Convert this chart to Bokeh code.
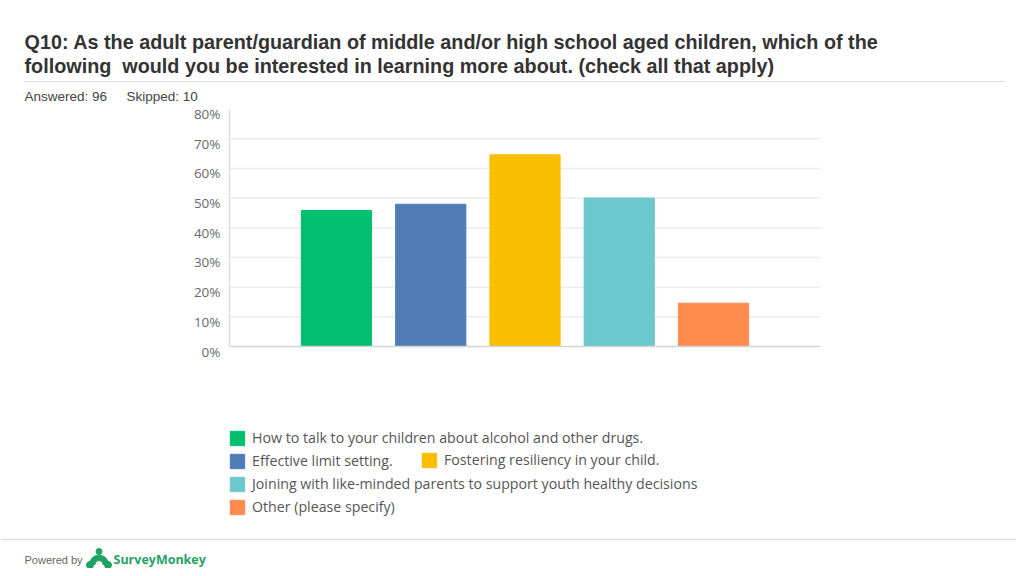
import math
from bokeh.plotting import figure
from bokeh.models import (Label, BoxAnnotation, Legend, LegendItem, ColumnDataSource, Range1d)
from bokeh.core.properties import value
from bokeh.embed import file_html
from bokeh.resources import INLINE

# ---- data ----
categories = [
    "How to talk to your children about alcohol and other drugs.",
    "Effective limit setting.",
    "Fostering resiliency in your child.",
    "Joining with like-minded parents to support youth healthy decisions",
    "Other (please specify)",
]
values = [0.4583, 0.4792, 0.6458, 0.5000, 0.1458]
colors = ["#00BF6F", "#507CB6", "#F9BE00", "#6BC8CD", "#FF8B4F"]
y_ticks = [0, 0.1, 0.2, 0.3, 0.4, 0.5, 0.6, 0.7, 0.8]
y_tick_labels = ["0%", "10%", "20%", "30%", "40%", "50%", "60%", "70%", "80%"]
title_lines = [
    "Q10: As the adult parent/guardian of middle and/or high school aged children, which of the",
    "following\u00a0 would you be interested in learning more about. (check all that apply)",
]
answered = "Answered: 96"
skipped = "Skipped: 10"

# ---- layout (pixels) ----
W, H = 1016, 568
PL, PR, PT, PB = 229, 820, 108.5, 346      # plot area in page pixels
n = len(values)
pad = 1.135                                 # category padding in bar units
x0, x1 = 1 - pad, n + pad
y0, y1 = 0.0, 0.8
sx = (PR - PL) / (x1 - x0)
sy = (PB - PT) / (y1 - y0)
xr = Range1d(x0 - PL / sx, x1 + (W - PR) / sx)
yr = Range1d(y0 - (H - PB) / sy, y1 + PT / sy)


def px2x(X):
    return xr.start + X / sx


def px2y(Y):
    return yr.start + (H - Y) / sy


p = figure(width=W, height=H, output_backend="svg", toolbar_location=None,
           x_range=xr, y_range=yr, min_border=0, outline_line_color=None,
           background_fill_color="white", border_fill_color="white")
p.xaxis.visible = False
p.yaxis.visible = False
p.grid.visible = False

# grid lines & axis lines
grid_y = y_ticks[1:-1]
p.segment(x0=[x0] * len(grid_y), x1=[x1] * len(grid_y), y0=grid_y, y1=grid_y,
          line_color="#ececec", line_width=1.5)
p.segment(x0=[x0], x1=[x0], y0=[y0], y1=[y1], line_color="#dedede", line_width=1.5)

xs = list(range(1, n + 1))
src = ColumnDataSource(dict(x=xs, top=values, color=colors, label=categories))
r = p.vbar(x="x", top="top", width=0.745, color="color", source=src)

p.segment(x0=[x0], x1=[x1], y0=[y0], y1=[y0], line_color="#d4d4d4", line_width=1.5)

# y tick labels
p.text(x=[x0] * len(y_ticks), y=y_ticks, text=y_tick_labels, x_offset=-9, y_offset=5,
       text_align="right", text_baseline="middle", text_font=value("Open Sans"),
       text_font_size="13.5px", text_color="#6a6a6a")


def lab(X, Y, text, font, size, color, style="normal"):
    p.add_layout(Label(x=X, y=H - Y, x_units="screen", y_units="screen", text=text,
                       text_font=font, text_font_size=size, text_color=color,
                       text_font_style=style, text_baseline="middle"))


def hline(X0, X1, Y, color, thick=1.0):
    p.add_layout(BoxAnnotation(left=X0, right=X1, top=H - Y + thick / 2, bottom=H - Y - thick / 2,
                               left_units="screen", right_units="screen", top_units="screen",
                               bottom_units="screen", fill_color=color, fill_alpha=1,
                               line_color=None))


for i, line in enumerate(title_lines):
    lab(24, 41 + 24 * i, line, "Liberation Sans", "19.8px", "#333333", "bold")
hline(24, 1005, 81, "#dddddd", 1.0)
lab(24, 96, answered, "Liberation Sans", "13.5px", "#444444")
lab(126, 96, skipped, "Liberation Sans", "13.5px", "#444444")

hline(0, 1016, 539, "#dddddd", 1.5)
lab(24, 559, "Powered by", "Liberation Sans", "11px", "#666666")
lab(113, 559, "SurveyMonkey", "Open Sans", "12.5px", "#1fa364", "bold")
# logo mark (half ring with two feet)
p.annular_wedge(x=[px2x(98.5)], y=[px2y(564)], inner_radius=4, outer_radius=9.5,
                inner_radius_units="screen", outer_radius_units="screen",
                start_angle=0, end_angle=math.pi, color="#1fa364")
p.scatter(x=[px2x(89.5), px2x(107.5)], y=[px2y(564.5), px2y(564.5)], size=7,
          color="#1fa364", marker="circle")
p.scatter(x=[px2x(98.5)], y=[px2y(551)], size=6, color="#1fa364", marker="circle")


def make_legend(idx, X, Ybottom):
    items = [LegendItem(label=categories[i], renderers=[r], index=i) for i in idx]
    lg = Legend(items=items, location=(X, H - Ybottom), orientation="vertical",
                glyph_width=18, glyph_height=18, label_height=18, label_width=10,
                spacing=4, padding=0, margin=0, label_standoff=6,
                label_text_font="Open Sans", label_text_font_size="14.2px",
                label_text_color="#555555", border_line_color=None,
                background_fill_alpha=0)
    p.add_layout(lg)


make_legend([0, 1, 3, 4], 228, 516)
make_legend([2], 420, 469)

open("out.html", "w").write(file_html(p, INLINE))
